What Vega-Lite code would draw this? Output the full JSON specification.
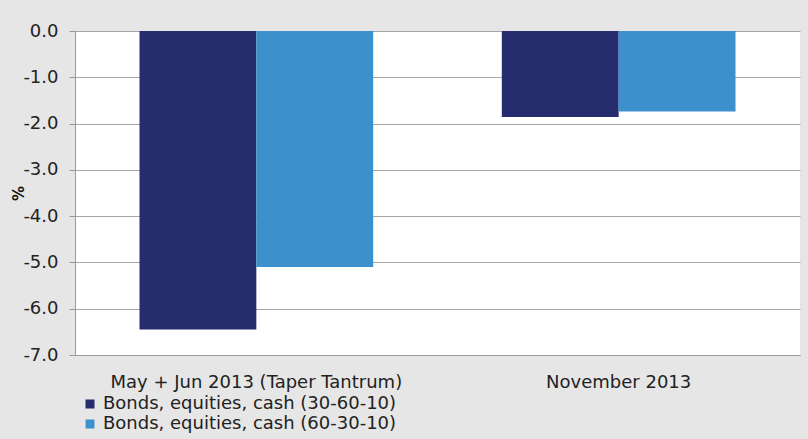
{
  "$schema": "https://vega.github.io/schema/vega-lite/v6.json",
  "width": 725,
  "height": 324,
  "autosize": {"type": "none"},
  "padding": {"left": 75, "top": 31, "right": 8, "bottom": 84},
  "background": "#e6e6e6",
  "config": {
    "view": {"fill": "white", "stroke": null},
    "font": "DejaVu Sans"
  },
  "data": {
    "values": [
      {"period": "May + Jun 2013 (Taper Tantrum)", "mix": "Bonds, equities, cash (30-60-10)", "value": -6.45},
      {"period": "May + Jun 2013 (Taper Tantrum)", "mix": "Bonds, equities, cash (60-30-10)", "value": -5.1},
      {"period": "November 2013", "mix": "Bonds, equities, cash (30-60-10)", "value": -1.86},
      {"period": "November 2013", "mix": "Bonds, equities, cash (60-30-10)", "value": -1.74}
    ]
  },
  "mark": {"type": "bar"},
  "encoding": {
    "x": {
      "field": "period",
      "type": "nominal",
      "sort": null,
      "scale": {"paddingInner": 0.355, "paddingOuter": 0.178},
      "axis": {
        "title": null,
        "labelAngle": 0,
        "ticks": false,
        "labelPadding": 18,
        "labelFontSize": 18,
        "labelLimit": 0,
        "labelColor": "#222222",
        "domainColor": "#999999"
      }
    },
    "xOffset": {"field": "mix", "type": "nominal", "sort": null},
    "y": {
      "field": "value",
      "type": "quantitative",
      "scale": {"domain": [-7, 0], "nice": false},
      "axis": {
        "title": "%",
        "titleFontWeight": "bold",
        "titleFontSize": 15,
        "titleColor": "#111111",
        "titlePadding": -4,
        "values": [0, -1, -2, -3, -4, -5, -6, -7],
        "labelExpr": "replace(format(datum.value, '.1f'), '\u2212', '-')",
        "labelFontSize": 18,
        "labelColor": "#222222",
        "labelPadding": 11,
        "tickSize": 6,
        "tickColor": "#999999",
        "domainColor": "#999999",
        "gridColor": "#a6a6a6",
        "grid": true
      }
    },
    "color": {
      "field": "mix",
      "type": "nominal",
      "sort": null,
      "scale": {"range": ["#262c6e", "#3c90cc"]},
      "legend": {
        "title": null,
        "orient": "none",
        "legendX": 6,
        "legendY": 364,
        "direction": "vertical",
        "symbolType": "square",
        "symbolSize": 81,
        "symbolStrokeWidth": 0,
        "labelFontSize": 18,
        "labelLimit": 0,
        "labelColor": "#222222",
        "labelOffset": 4,
        "rowPadding": 2
      }
    }
  }
}
